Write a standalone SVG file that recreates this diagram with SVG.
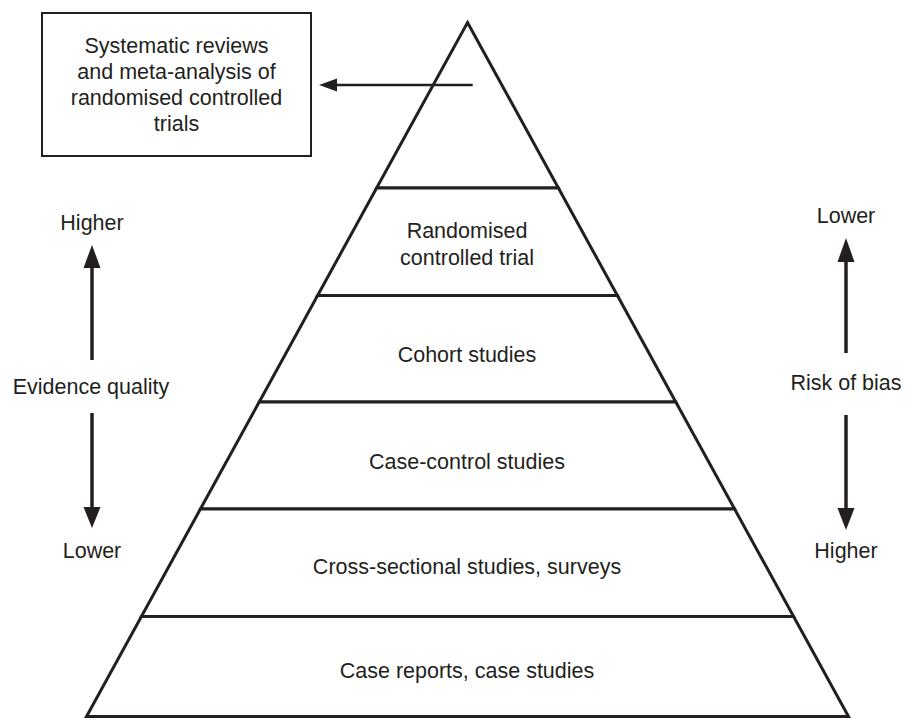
<svg xmlns="http://www.w3.org/2000/svg" width="905" height="718" viewBox="0 0 905 718">
<style>
.t{font-family:"Liberation Sans",Arial,Helvetica,sans-serif;font-size:21.5px;fill:#231f20;text-anchor:middle}
.layer{fill:#fff;stroke:#231f20;stroke-width:3;stroke-linejoin:miter}
.box{fill:#fff;stroke:#231f20;stroke-width:2}
.shaft{stroke:#231f20;stroke-width:3.5;fill:none}
.head{fill:#231f20}
</style>
<rect width="905" height="718" fill="#fff"/>
<g id="pyramid">
<g id="layer-top"><polygon class="layer" points="467.5,22.5 558.4,188 376.6,188"/></g>
<g id="layer-rct"><polygon class="layer" points="376.6,188 558.4,188 617.4,295.5 317.6,295.5"/><text class="t" x="467" y="238">Randomised</text><text class="t" x="467" y="265">controlled trial</text></g>
<g id="layer-cohort"><polygon class="layer" points="317.6,295.5 617.4,295.5 675.8,402 259.2,402"/><text class="t" x="467" y="362">Cohort studies</text></g>
<g id="layer-casecontrol"><polygon class="layer" points="259.2,402 675.8,402 734.6,509 200.4,509"/><text class="t" x="467" y="469">Case-control studies</text></g>
<g id="layer-cross"><polygon class="layer" points="200.4,509 734.6,509 793.6,616.5 141.4,616.5"/><text class="t" x="467" y="574">Cross-sectional studies, surveys</text></g>
<g id="layer-case"><polygon class="layer" points="141.4,616.5 793.6,616.5 848.5,716.5 86.5,716.5"/><text class="t" x="467" y="678">Case reports, case studies</text></g>
</g>
<g id="sr-box"><rect class="box" x="42" y="13" width="269" height="143"/><text class="t" x="176.5" y="53">Systematic reviews</text><text class="t" x="176.5" y="79">and meta-analysis of</text><text class="t" x="176.5" y="105">randomised controlled</text><text class="t" x="176.5" y="131">trials</text></g>
<g id="evidence-label"><text class="t" x="92" y="230">Higher</text><text class="t" x="91" y="394">Evidence quality</text><text class="t" x="92" y="558">Lower</text></g>
<g id="bias-label"><text class="t" x="846" y="223">Lower</text><text class="t" x="846" y="390">Risk of bias</text><text class="t" x="846" y="558">Higher</text></g>
<g id="connectors">
<line class="shaft" x1="472.7" y1="85" x2="335" y2="85" style="stroke-width:2.5"/>
<polygon class="head" points="319,85 337,78.5 337,91.5"/>
<line class="shaft" x1="92" y1="360" x2="92" y2="265"/>
<polygon class="head" points="92,245 83.5,268 100.5,268"/>
<line class="shaft" x1="92" y1="413" x2="92" y2="510"/>
<polygon class="head" points="92,528 83.5,507 100.5,507"/>
<line class="shaft" x1="846" y1="353" x2="846" y2="259"/>
<polygon class="head" points="846,238 837.5,262 854.5,262"/>
<line class="shaft" x1="846" y1="415" x2="846" y2="511"/>
<polygon class="head" points="846,530 837.5,508 854.5,508"/>
</g>
</svg>
